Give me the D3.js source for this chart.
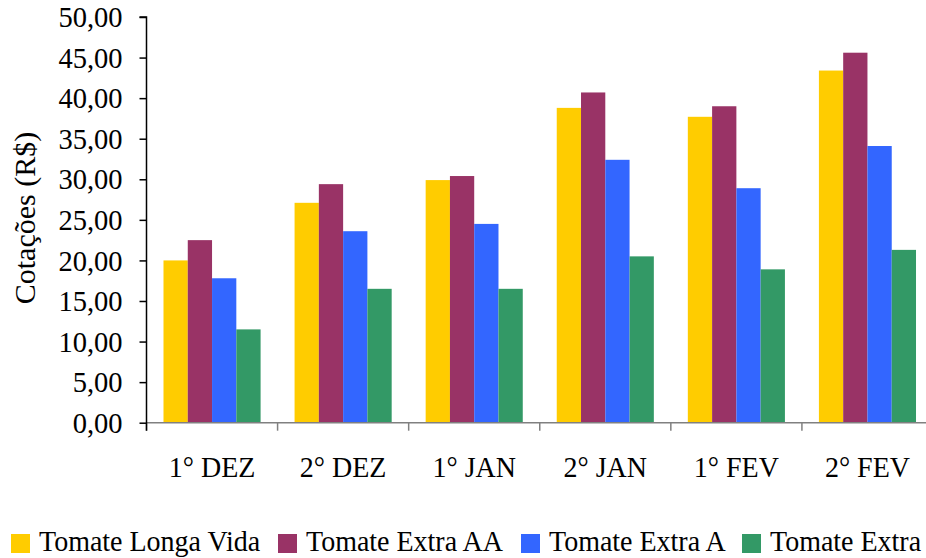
<!DOCTYPE html>
<html>
<head>
<meta charset="utf-8">
<script src="https://cdn.jsdelivr.net/npm/d3@7"></script>
<style>
  html, body { margin: 0; padding: 0; background: #fff; }
  svg { display: block; }
  text { font-family: "Liberation Serif", "Times New Roman", serif; fill: #000; }
</style>
</head>
<body>
<svg id="chart" width="926" height="558"></svg>
<script>
// Quinzenas (periods) on the x axis
const periods = ["1° DEZ", "2° DEZ", "1° JAN", "2° JAN", "1° FEV", "2° FEV"];
// Tomato grades
const grades = ["Tomate Longa Vida", "Tomate Extra AA", "Tomate Extra A", "Tomate Extra"];
const gradeColors = ["#FFCC00", "#993366", "#3366FF", "#339966"];
// Prices (R$) per grade, one value per period
const longaVida = [20.0, 27.1, 29.9, 38.8, 37.7, 43.4];
const extraAA   = [22.5, 29.4, 30.4, 40.7, 39.0, 45.6];
const extraA    = [17.8, 23.6, 24.5, 32.4, 28.9, 34.1];
const extra     = [11.5, 16.5, 16.5, 20.5, 18.9, 21.3];
// Y axis ticks
const yTicks = [0, 5, 10, 15, 20, 25, 30, 35, 40, 45, 50];

const seriesValues = [longaVida, extraAA, extraA, extra];

const svg = d3.select("#chart");
const plotLeft = 146.5, plotRight = 933, plotTop = 17, plotBottom = 422.7;

const x = d3.scaleBand().domain(periods).range([plotLeft, plotRight]).paddingInner(0).paddingOuter(0);
const xs = d3.scaleBand().domain(grades).range([0, x.bandwidth()]).paddingInner(0).paddingOuter(0.7);
const y = d3.scaleLinear().domain([0, 50]).range([plotBottom, plotTop]);
const color = d3.scaleOrdinal().domain(grades).range(gradeColors);

const fmt = v => d3.format(".2f")(v).replace(".", ",");

// Bars
const groups = svg.append("g").selectAll("g")
  .data(periods)
  .join("g")
  .attr("transform", d => `translate(${x(d)},0)`);

groups.selectAll("rect")
  .data((p, i) => grades.map((g, k) => ({ grade: g, value: seriesValues[k][i] })))
  .join("rect")
  .attr("x", d => xs(d.grade))
  .attr("y", d => y(d.value))
  .attr("width", xs.bandwidth())
  .attr("height", d => plotBottom - y(d.value))
  .attr("fill", d => color(d.grade));

// X axis: baseline with ticks at category boundaries
const xAxis = svg.append("g");
xAxis.append("line")
  .attr("x1", plotLeft).attr("x2", 926)
  .attr("y1", plotBottom).attr("y2", plotBottom)
  .attr("stroke", "#808080").attr("stroke-width", 1.5);
xAxis.selectAll("line.tick")
  .data(periods)
  .join("line")
  .attr("class", "tick")
  .attr("x1", d => x(d)).attr("x2", d => x(d))
  .attr("y1", plotBottom).attr("y2", plotBottom + 8)
  .attr("stroke", "#808080").attr("stroke-width", 1.5);
xAxis.selectAll("text")
  .data(periods)
  .join("text")
  .attr("transform", d => `translate(${x(d) + x.bandwidth() / 2},477) scale(1,1.06)`)
  .attr("text-anchor", "middle")
  .attr("font-size", 28)
  .text(d => d);

// Y axis
const yAxis = d3.axisLeft(y).tickValues(yTicks).tickSize(7).tickPadding(17).tickFormat(fmt);
const yG = svg.append("g").attr("transform", `translate(${plotLeft},0)`).call(yAxis);
yG.attr("font-family", null);
yG.select(".domain").attr("stroke", "#000").attr("stroke-width", 1.5)
  .attr("d", `M-7,${plotTop}H0V${plotBottom + 8}`);
yG.selectAll(".tick line").attr("stroke", "#000").attr("stroke-width", 1.5);
yG.selectAll(".tick text")
  .attr("font-size", 28.5)
  .attr("fill", "#000")
  .attr("dy", "0.34em");

// Y axis title
svg.append("text")
  .attr("transform", `translate(35,218) rotate(-90)`)
  .attr("text-anchor", "middle")
  .attr("font-size", 30)
  .text("Cotações (R$)");

// Legend
const legendX = [11, 278, 521, 742];
const legend = svg.append("g").selectAll("g")
  .data(grades)
  .join("g")
  .attr("transform", (d, i) => `translate(${legendX[i]},534)`);
legend.append("rect")
  .attr("width", 19).attr("height", 19)
  .attr("fill", d => color(d));
legend.append("text")
  .attr("transform", "translate(28,17) scale(1,1.08)")
  .attr("font-size", 28)
  .text(d => d);
</script>
</body>
</html>
